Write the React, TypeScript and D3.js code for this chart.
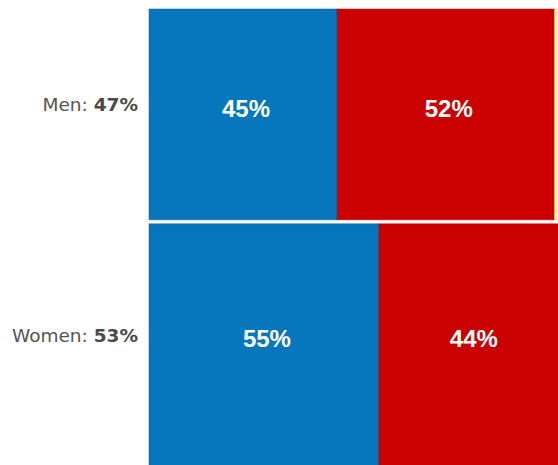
import React, { useEffect, useRef } from 'react'
import * as d3 from 'd3'

const groups = ['Men', 'Women']
const groupShare = [47, 53]
const segmentNames = ['blue', 'red', 'other']
const blueShare = [45, 55]
const redShare = [52, 44]
const otherShare = [3, 1]

const W = 558
const H = 465

export default function App() {
  const ref = useRef<SVGSVGElement | null>(null)

  useEffect(() => {
    if (!ref.current) return
    const svg = d3.select(ref.current)
    svg.selectAll('*').remove()

    const x = d3.scaleLinear().domain([0, 100]).range([149, 567])
    const y = d3.scaleLinear().domain([0, 100]).range([9, 466])
    const color = d3
      .scaleOrdinal<string, string>()
      .domain(segmentNames)
      .range(['#0677bc', '#cb0000', '#fff3a3'])
    const gap = 4

    let cumY = 0
    groups.forEach((g, i) => {
      const y0 = y(cumY)
      const y1 = y(cumY + groupShare[i]) - (i < groups.length - 1 ? gap : 0)
      cumY += groupShare[i]
      const cy = (y0 + y1) / 2

      const values = [blueShare[i], redShare[i], otherShare[i]]
      let cumX = 0
      const segs = values.map((v, j) => {
        const s = { name: segmentNames[j], v, x0: cumX, x1: cumX + v }
        cumX += v
        return s
      })

      const row = svg.append('g')
      row
        .selectAll('rect')
        .data(segs)
        .join('rect')
        .attr('x', (d) => x(d.x0))
        .attr('y', y0)
        .attr('width', (d) => x(d.x1) - x(d.x0))
        .attr('height', y1 - y0)
        .attr('fill', (d) => color(d.name))
        .attr('stroke', (d) => d3.color(color(d.name))!.darker(0.6).formatHex())
        .attr('stroke-opacity', 0.5)
        .attr('stroke-width', 1)

      row
        .selectAll('text.seg')
        .data(segs.filter((d) => d.v >= 10))
        .join('text')
        .attr('class', 'seg')
        .attr('x', (d) => (x(d.x0) + x(d.x1)) / 2 + 3)
        .attr('y', cy - 6)
        .attr('text-anchor', 'middle')
        .attr('dominant-baseline', 'central')
        .attr('fill', '#ffffff')
        .style('font-family', '"Liberation Sans", Arial, sans-serif')
        .style('font-weight', 700)
        .style('font-size', '24px')
        .text((d) => `${d.v}%`)

      const lbl = row
        .append('text')
        .attr('x', 138)
        .attr('y', cy - 10)
        .attr('text-anchor', 'end')
        .attr('dominant-baseline', 'central')
        .attr('fill', '#555555')
        .style('font-family', '"DejaVu Sans", Verdana, sans-serif')
        .style('font-size', '18.5px')
      lbl.append('tspan').text(`${g}: `)
      lbl.append('tspan').style('font-weight', 700).attr('fill', '#4a4a4a').text(`${groupShare[i]}%`)
    })
  }, [])

  return (
    <svg
      ref={ref}
      width={W}
      height={H}
      style={{ position: 'absolute', left: 0, top: 0, background: '#ffffff' }}
    />
  )
}
